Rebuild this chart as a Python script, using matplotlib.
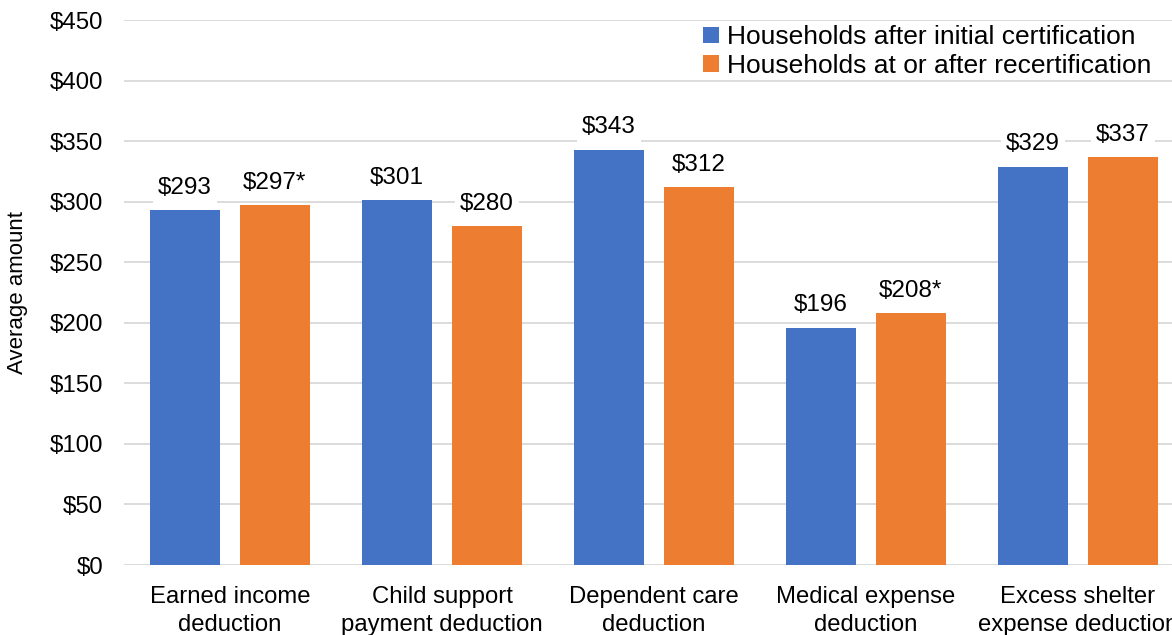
import matplotlib
matplotlib.use("Agg")
import matplotlib.pyplot as plt
import numpy as np

plt.rcParams['font.family'] = ['Liberation Sans', 'DejaVu Sans']

categories = ["Earned income\ndeduction", "Child support\npayment deduction",
              "Dependent care\ndeduction", "Medical expense\ndeduction",
              "Excess shelter\nexpense deduction"]
initial = [293, 301, 343, 196, 329]
recert = [297, 280, 312, 208, 337]
initial_labels = ["$293", "$301", "$343", "$196", "$329"]
recert_labels = ["$297*", "$280", "$312", "$208*", "$337"]
series_names = ["Households after initial certification",
                "Households at or after recertification"]
yticks = [0, 50, 100, 150, 200, 250, 300, 350, 400, 450]

blue = "#4472C4"
orange = "#ED7D31"
grid = "#D9D9D9"

fig = plt.figure(figsize=(11.72, 6.35), dpi=100)
ax = fig.add_axes([0.1058, 0.1102, 0.9044, 0.8583])

x = np.arange(len(categories))
w = 0.33
off = 0.212
b1 = ax.bar(x - off, initial, w, color=blue, label=series_names[0], zorder=2)
b2 = ax.bar(x + off, recert, w, color=orange, label=series_names[1], zorder=2)

for bars, labels in ((b1, initial_labels), (b2, recert_labels)):
    for rect, lab in zip(bars, labels):
        ax.annotate(lab, (rect.get_x() + rect.get_width() / 2, rect.get_height()),
                    xytext=(0, 16), textcoords="offset points", ha="center", va="center",
                    fontsize=17.5, color="black", zorder=3,
                    bbox=dict(boxstyle="square,pad=0.2", fc="white", ec="none"))

ax.set_xlim(-0.5, len(categories) - 0.5)
ax.set_ylim(0, 450)
ax.set_yticks(yticks)
ax.set_yticklabels([f"${v}" for v in yticks], fontsize=17.3)
ax.set_xticks(x)
ax.set_xticklabels(categories, fontsize=17.2, linespacing=1.34)
ax.tick_params(axis="both", length=0)
ax.tick_params(axis="y", pad=15)
ax.tick_params(axis="x", pad=15)
ax.yaxis.grid(True, color=grid, linewidth=1.3, zorder=0)
ax.set_axisbelow(True)
for s in ax.spines.values():
    s.set_visible(False)
ax.set_ylabel("Average amount", fontsize=16)
ax.yaxis.set_label_coords(-0.0906, 0.5)

ax.legend(loc="upper right", bbox_to_anchor=(0.974, 1.0), frameon=False, fontsize=19,
          handlelength=0.6, handleheight=0.6, handletextpad=0.3, labelspacing=0.17,
          borderaxespad=0, borderpad=0.2)

fig.savefig("out.png", dpi=100)
